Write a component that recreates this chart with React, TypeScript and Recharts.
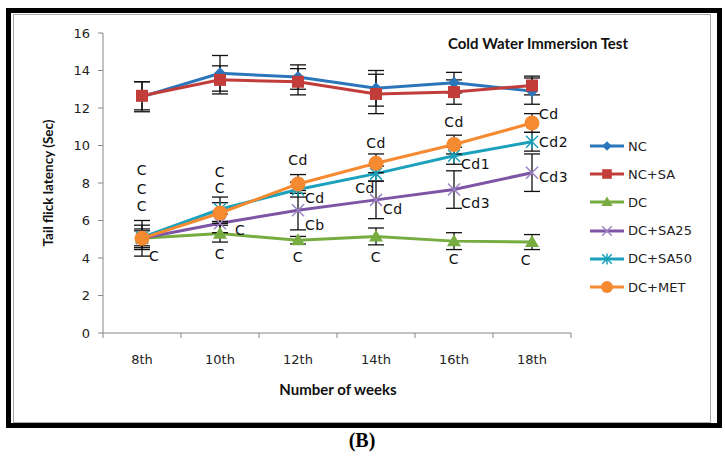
import { LineChart, Line, XAxis, YAxis, ErrorBar, ReferenceDot } from 'recharts';

// weeks on the x axis
const weeks = ['8th', '10th', '12th', '14th', '16th', '18th'];
const yTicks = [0, 2, 4, 6, 8, 10, 12, 14, 16];

// mean tail flick latency (sec) and error
const nc = [12.6, 13.85, 13.65, 13.05, 13.35, 12.9];
const ncErr = [0.8, 0.95, 0.65, 0.95, 0.55, 0.7];
const ncSa = [12.65, 13.5, 13.4, 12.75, 12.85, 13.2];
const ncSaErr = [0.75, 0.75, 0.7, 1.05, 0.65, 0.5];
const dc = [5.05, 5.3, 4.95, 5.15, 4.9, 4.85];
const dcErr = [0.4, 0.45, 0.2, 0.45, 0.45, 0.4];
const dcSa25 = [5.05, 5.85, 6.55, 7.1, 7.65, 8.55];
const dcSa25Err = [0.95, 0.5, 1.05, 1.0, 1.0, 1.0];
const dcSa50 = [5.1, 6.6, 7.65, 8.5, 9.45, 10.2];
const dcSa50Err = [0.65, 0.65, 0.4, 0.4, 0.45, 0.5];
const dcMet = [5.05, 6.4, 7.95, 9.05, 10.05, 11.2];
const dcMetErr = [0.5, 0.55, 0.5, 0.5, 0.5, 0.5];

// significance letters: week, y value, text, where it sits
const notes = [
  { week: '8th', value: 8.7, text: 'C', place: 'mid' },
  { week: '8th', value: 7.7, text: 'C', place: 'mid' },
  { week: '8th', value: 6.75, text: 'C', place: 'mid' },
  { week: '8th', value: 4.1, text: 'C', place: 'right' },
  { week: '10th', value: 8.6, text: 'C', place: 'mid' },
  { week: '10th', value: 7.75, text: 'C', place: 'mid' },
  { week: '10th', value: 5.5, text: 'C', place: 'far' },
  { week: '10th', value: 4.2, text: 'C', place: 'mid' },
  { week: '12th', value: 9.25, text: 'Cd', place: 'mid' },
  { week: '12th', value: 7.2, text: 'Cd', place: 'right' },
  { week: '12th', value: 5.75, text: 'Cb', place: 'right' },
  { week: '12th', value: 4.05, text: 'C', place: 'mid' },
  { week: '14th', value: 10.15, text: 'Cd', place: 'mid' },
  { week: '14th', value: 7.75, text: 'Cd', place: 'left' },
  { week: '14th', value: 6.6, text: 'Cd', place: 'right' },
  { week: '14th', value: 4.05, text: 'C', place: 'mid' },
  { week: '16th', value: 11.25, text: 'Cd', place: 'mid' },
  { week: '16th', value: 9.0, text: 'Cd1', place: 'right' },
  { week: '16th', value: 6.95, text: 'Cd3', place: 'right' },
  { week: '16th', value: 3.95, text: 'C', place: 'mid' },
  { week: '18th', value: 11.7, text: 'Cd', place: 'right' },
  { week: '18th', value: 10.2, text: 'Cd2', place: 'right' },
  { week: '18th', value: 8.3, text: 'Cd3', place: 'right' },
  { week: '18th', value: 3.9, text: 'C', place: 'left' },
];

const series = [
  { key: 'nc', name: 'NC', color: '#2B76BA', values: nc, err: ncErr, marker: 'diamond' },
  { key: 'ncSa', name: 'NC+SA', color: '#C23D3A', values: ncSa, err: ncSaErr, marker: 'square' },
  { key: 'dc', name: 'DC', color: '#77AC41', values: dc, err: dcErr, marker: 'triangle' },
  { key: 'dcSa25', name: 'DC+SA25', color: '#7D55A4', values: dcSa25, err: dcSa25Err, marker: 'cross' },
  { key: 'dcSa50', name: 'DC+SA50', color: '#1BA1BB', values: dcSa50, err: dcSa50Err, marker: 'star' },
  { key: 'dcMet', name: 'DC+MET', color: '#F68A31', values: dcMet, err: dcMetErr, marker: 'circle' },
];

const data = weeks.map((week, i) => {
  const row: any = { week };
  series.forEach((s) => {
    row[s.key] = s.values[i];
    row[s.key + 'Err'] = s.err[i];
  });
  return row;
});

const W = 725;
const H = 457;
const margin = { top: 33, right: 154, bottom: 94, left: 63 };
const Y_W = 40;
const plotW = W - margin.left - margin.right - Y_W;
const half = plotW / weeks.length / 2;

const tickFont = '"DejaVu Sans", Verdana, sans-serif';
const titleFont = 'Lato, "Open Sans", sans-serif';

function Marker({ type, cx, cy, color, s = 1 }: any) {
  if (cx == null || cy == null) return null;
  switch (type) {
    case 'diamond':
      return <polygon points={`${cx},${cy - 6 * s} ${cx + 6 * s},${cy} ${cx},${cy + 6 * s} ${cx - 6 * s},${cy}`} fill={color} />;
    case 'square':
      return <rect x={cx - 6 * s} y={cy - 6 * s} width={12 * s} height={12 * s} fill={color} />;
    case 'triangle':
      return <polygon points={`${cx},${cy - 7 * s} ${cx + 7 * s},${cy + 5 * s} ${cx - 7 * s},${cy + 5 * s}`} fill={color} />;
    case 'cross':
      return (
        <g stroke="#9C83C4" strokeWidth={1.5}>
          <line x1={cx - 6 * s} y1={cy - 6 * s} x2={cx + 6 * s} y2={cy + 6 * s} />
          <line x1={cx - 6 * s} y1={cy + 6 * s} x2={cx + 6 * s} y2={cy - 6 * s} />
        </g>
      );
    case 'star':
      return (
        <g stroke={color} strokeWidth={1.5}>
          <line x1={cx - 6 * s} y1={cy - 6 * s} x2={cx + 6 * s} y2={cy + 6 * s} />
          <line x1={cx - 6 * s} y1={cy + 6 * s} x2={cx + 6 * s} y2={cy - 6 * s} />
          <line x1={cx} y1={cy - 7 * s} x2={cx} y2={cy + 7 * s} />
        </g>
      );
    default:
      return <circle cx={cx} cy={cy} r={7.5 * s} fill={color} />;
  }
}

function WeekTick(props: any) {
  const { x, y, payload, index } = props;
  return (
    <g>
      <line x1={x - half} x2={x - half} y1={y} y2={y + 5} stroke="#868686" />
      {index === weeks.length - 1 && <line x1={x + half} x2={x + half} y1={y} y2={y + 5} stroke="#868686" />}
      <text x={x} y={y + 31} textAnchor="middle" fontSize={13} fontFamily={tickFont} fill="#222">
        {payload.value}
      </text>
    </g>
  );
}

function noteShape(text: string, place: string) {
  return (p: any) => {
    let anchor = 'middle';
    let dx = 0;
    if (place === 'right') { anchor = 'start'; dx = 7; }
    if (place === 'far') { anchor = 'start'; dx = 15; }
    if (place === 'left') { anchor = 'end'; dx = -1; }
    return (
      <text x={p.cx + dx} y={p.cy} textAnchor={anchor} dominantBaseline="central"
        fontSize={14} fontFamily={tickFont} fill="#111" letterSpacing={0.5}>
        {text}
      </text>
    );
  };
}

export default function App() {
  return (
    <div style={{ position: 'absolute', left: 0, top: 0, width: W, height: H, background: '#fff', overflow: 'hidden' }}>
      <div style={{ position: 'absolute', left: 6, top: 8, width: 716, height: 420, border: '5px solid #000', boxSizing: 'border-box' }} />
      <div style={{ position: 'absolute', left: 13, top: 14, width: 698, height: 409, border: '1px solid #aaa', boxSizing: 'border-box' }} />

      <div style={{ position: 'absolute', left: 0, top: 0 }}>
        <LineChart width={W} height={H} data={data} margin={margin}>
          <XAxis dataKey="week" tickLine={false} tickSize={0} tickMargin={0} stroke="#868686" tick={<WeekTick />}
            height={30} interval={0} padding={{ left: half, right: half }} />
          <YAxis domain={[0, 16]} ticks={yTicks} width={Y_W} tickSize={5} tickMargin={8} stroke="#868686"
            tick={{ fontSize: 13, fontFamily: tickFont, fill: '#222' }} interval={0} />
          {series.map((s) => (
            <Line key={s.key} dataKey={s.key} name={s.name} stroke={s.color} strokeWidth={3}
              isAnimationActive={false}
              dot={(p: any) => <Marker key={`${s.key}-${p.index}`} type={s.marker} cx={p.cx} cy={p.cy} color={s.color} />}
              activeDot={false}>
              <ErrorBar dataKey={s.key + 'Err'} direction="y" width={8} stroke="#111" strokeWidth={1.3} />
            </Line>
          ))}
          {notes.map((n, i) => (
            <ReferenceDot key={i} x={n.week} y={n.value} r={0} shape={noteShape(n.text, n.place)} />
          ))}
        </LineChart>
      </div>

      <div style={{ position: 'absolute', left: 447, top: 34, width: 182, textAlign: 'center', fontFamily: titleFont, fontWeight: 700, fontSize: 15, color: '#111', whiteSpace: 'nowrap' }}>
        Cold Water Immersion Test
      </div>
      <div style={{ position: 'absolute', left: 48, top: 183, transform: 'translate(-50%, -50%) rotate(-90deg)', fontFamily: titleFont, fontWeight: 700, fontSize: 13.5, color: '#111', whiteSpace: 'nowrap' }}>
        Tail flick latency (Sec)
      </div>
      <div style={{ position: 'absolute', left: 338, top: 389, transform: 'translate(-50%, -50%)', fontFamily: titleFont, fontWeight: 700, fontSize: 15, color: '#111', whiteSpace: 'nowrap' }}>
        Number of weeks
      </div>

      <div style={{ position: 'absolute', left: 590, top: 132 }}>
        {series.map((s) => (
          <div key={s.key} style={{ display: 'flex', alignItems: 'center', height: 28.2 }}>
            <svg width={34} height={16}>
              <line x1={0} x2={34} y1={8} y2={8} stroke={s.color} strokeWidth={3} />
              <Marker type={s.marker} cx={17} cy={8} color={s.color} s={0.8} />
            </svg>
            <span style={{ marginLeft: 4, fontFamily: tickFont, fontSize: 13, color: '#222' }}>{s.name}</span>
          </div>
        ))}
      </div>

      <div style={{ position: 'absolute', left: 362, top: 440, transform: 'translate(-50%, -50%)', fontFamily: '"Liberation Serif", "DejaVu Serif", serif', fontWeight: 700, fontSize: 20, lineHeight: '20px', color: '#000' }}>
        (B)
      </div>
    </div>
  );
}
